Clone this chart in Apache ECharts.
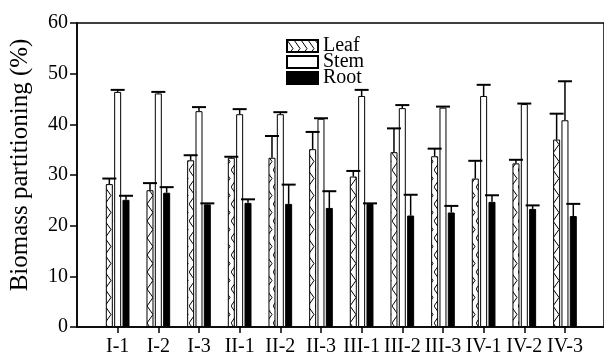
<!DOCTYPE html>
<html>
<head>
<meta charset="utf-8">
<script src="https://cdn.jsdelivr.net/npm/echarts@6/dist/echarts.min.js"></script>
<style>
  html, body { margin: 0; padding: 0; background: #fff; }
  #chart { width: 604px; height: 357px; }
</style>
</head>
<body>
<div id="chart"></div>
<script>
const categories = ['I-1', 'I-2', 'I-3', 'II-1', 'II-2', 'II-3', 'III-1', 'III-2', 'III-3', 'IV-1', 'IV-2', 'IV-3'];

const leaf    = [28.2, 27.0, 32.9, 33.4, 33.4, 35.1, 29.7, 34.5, 33.7, 29.3, 32.3, 37.0];
const leafErr = [1.1, 1.4, 1.0, 0.2, 4.3, 3.4, 1.1, 4.7, 1.5, 3.5, 0.7, 5.1];
const stem    = [46.4, 46.1, 42.6, 42.0, 42.0, 41.1, 45.6, 43.2, 43.3, 45.6, 44.0, 40.8];
const stemErr = [0.4, 0.3, 0.8, 1.0, 0.4, 0.1, 1.2, 0.6, 0.2, 2.2, 0.1, 7.7];
const root    = [25.1, 26.5, 24.2, 24.5, 24.3, 23.5, 24.3, 22.0, 22.6, 24.7, 23.3, 21.9];
const rootErr = [0.8, 1.1, 0.2, 0.7, 3.8, 3.3, 0.1, 4.1, 1.3, 1.3, 0.7, 2.4];

const yTicks = [0, 10, 20, 30, 40, 50, 60];

const FONT = '"Liberation Serif", "Times New Roman", serif';
const SHIFT = 0.205; // side-by-side spacing of the three bars, in category units
const tickPos = categories.map((c, i) => i);

// zigzag hatch used for the leaf bars
function makeHatch() {
  const c = document.createElement('canvas');
  c.width = 7;
  c.height = 17;
  const ctx = c.getContext('2d');
  ctx.fillStyle = '#fff';
  ctx.fillRect(0, 0, 7, 17);
  ctx.strokeStyle = '#000';
  ctx.lineWidth = 1;
  ctx.beginPath();
  ctx.moveTo(0, 0);
  ctx.lineTo(6, 8.5);
  ctx.lineTo(0, 17);
  ctx.stroke();
  return c;
}

function barSeries(name, values, shift, fill) {
  return {
    name,
    type: 'bar',
    barWidth: 7,
    barGap: '-100%',
    data: values.map((v, i) => [i + shift, v]),
    itemStyle: { color: fill, borderColor: '#000', borderWidth: 1 },
    z: 2,
  };
}

function errorSeries(values, errs, shift) {
  return {
    type: 'custom',
    silent: true,
    z: 3,
    data: values.map((v, i) => [i + shift, v, v + errs[i]]),
    renderItem(params, api) {
      const x = api.value(0);
      const lo = api.coord([x, api.value(1)]);
      const hi = api.coord([x, api.value(2)]);
      return {
        type: 'group',
        children: [
          { type: 'line', shape: { x1: lo[0], y1: lo[1], x2: hi[0], y2: hi[1] }, style: { stroke: '#000', lineWidth: 1.5 } },
          { type: 'line', shape: { x1: hi[0] - 7, y1: hi[1], x2: hi[0] + 7, y2: hi[1] }, style: { stroke: '#000', lineWidth: 2 } },
        ],
      };
    },
  };
}

const chart = echarts.init(document.getElementById('chart'));

chart.setOption({
  animation: false,
  backgroundColor: '#fff',
  grid: { left: 76, top: 23, right: -10, bottom: 30, show: true, borderColor: '#000', borderWidth: 1.5 },
  legend: {
    data: ['Leaf', 'Stem', 'Root'],
    orient: 'vertical',
    left: 281,
    top: 31,
    icon: 'rect',
    itemWidth: 31,
    itemHeight: 12,
    itemGap: -4,
    itemTextGap: 6,
    selectedMode: false,
    textStyle: { fontFamily: FONT, fontSize: 20, color: '#000' },
  },
  xAxis: {
    type: 'value',
    min: -1,
    max: 11.96,
    interval: 1,
    splitLine: { show: false },
    axisLine: { show: true, onZero: false, lineStyle: { color: '#000', width: 1.5 } },
    axisTick: { show: true, customValues: tickPos, length: 6, lineStyle: { color: '#000', width: 1.5 } },
    axisLabel: {
      customValues: tickPos,
      formatter: (v) => categories[Math.round(v)],
      margin: 10,
      fontFamily: FONT,
      fontSize: 20,
      color: '#000',
    },
  },
  yAxis: {
    type: 'value',
    min: yTicks[0],
    max: yTicks[yTicks.length - 1],
    interval: 10,
    name: 'Biomass partitioning (%)',
    nameLocation: 'middle',
    nameGap: 44,
    nameRotate: 90,
    nameTextStyle: { fontFamily: FONT, fontSize: 25, color: '#000', padding: [0, 0, 0, 20] },
    splitLine: { show: false },
    axisLine: { show: true, onZero: false, lineStyle: { color: '#000', width: 1.5 } },
    axisTick: { show: true, length: 7, lineStyle: { color: '#000', width: 1.5 } },
    axisLabel: { margin: 9, fontFamily: FONT, fontSize: 20, color: '#000' },
  },
  series: [
    barSeries('Leaf', leaf, -SHIFT, { image: makeHatch(), repeat: 'repeat' }),
    barSeries('Stem', stem, 0, '#fff'),
    barSeries('Root', root, SHIFT, '#000'),
    errorSeries(leaf, leafErr, -SHIFT),
    errorSeries(stem, stemErr, 0),
    errorSeries(root, rootErr, SHIFT),
  ],
});

window.addEventListener('resize', () => chart.resize());
</script>
</body>
</html>
